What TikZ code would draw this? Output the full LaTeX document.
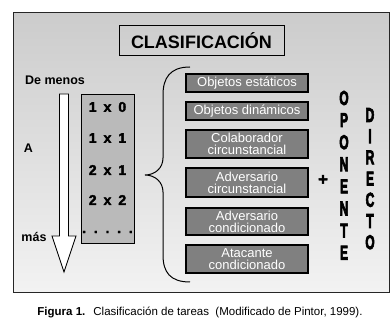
\documentclass[tikz,border=0pt]{standalone}
\usepackage{fontspec}
\setmainfont{Liberation Sans}
\newfontfamily\gruesa{Liberation Sans}[BoldFeatures={FakeBold=2.5}]
\newfontfamily\negra{Liberation Sans}[BoldFeatures={FakeBold=4.5}]
\begin{document}
\begin{tikzpicture}[x=1pt,y=-1pt,
    tarea/.style={draw=black,line width=1.2pt,fill=black!50,text=white,align=center,
      minimum width=122,inner sep=0pt,font=\fontsize{13}{12}\selectfont},
    celda/.style={font=\gruesa\fontsize{14}{16}\selectfont\bfseries},
    letra/.style={font=\negra\fontsize{20}{20}\selectfont\bfseries,inner sep=0pt},
    rotulo/.style={font=\fontsize{12.5}{14}\selectfont\bfseries,inner sep=0pt}]
  \useasboundingbox (0,0) rectangle (392,320);
  % fondo
  \shade[top color=black!20,bottom color=black!5] (13,13) rectangle (389,293);
  \draw[line width=1pt,black!85] (13,13) rectangle (389,293);
  \node[draw,line width=1pt,minimum width=165,minimum height=30,
    font=\fontsize{18}{20}\selectfont\bfseries] (titulo) at (201.5,41) {CLASIFICACIÓN};
  % flecha de menos a mas
  \node[rotulo,anchor=west] (menos) at (25,80) {De menos};
  \node[rotulo] (a) at (28.5,148) {A};
  \node[rotulo] (mas) at (34,237) {más};
  \draw[fill=white,line width=0.8pt] (59.5,94) -- (68.5,94) -- (68.5,236) -- (76,236)
    -- (64,272) -- (52,236) -- (59.5,236) -- cycle;
  % tabla de niveles
  \node[draw,line width=0.8pt,fill=black!27,minimum width=53,minimum height=149] (tabla) at (107.5,168.5) {};
  \foreach \yc/\txt [count=\i] in {107/{1\hspace{7pt}x\hspace{7pt}0},138/{1\hspace{7pt}x\hspace{7pt}1},
      170/{2\hspace{7pt}x\hspace{7pt}1},200/{2\hspace{7pt}x\hspace{7pt}2},232/{.\ \ .\ \ .\ \ .\ \ .}} {
    \node[celda] (c\i) at (107.5,\yc) {\txt};
  }
  % llave
  \draw[line width=1pt] (190,67) .. controls (170,67) and (163,78) .. (163,95) -- (163,158)
    .. controls (163,168) and (155,175) .. (145,175)
    .. controls (155,175) and (163,182) .. (163,192) -- (163,255)
    .. controls (163,272) and (170,282) .. (190,282);
  % tareas
  \node[tarea,minimum height=18] (t1) at (247,83) {Objetos estáticos};
  \node[tarea,minimum height=18] (t2) at (247,111) {Objetos dinámicos};
  \node[tarea,minimum height=28] (t3) at (247,144) {Colaborador\\circunstancial};
  \node[tarea,minimum height=29] (t4) at (247,182.5) {Adversario\\circunstancial};
  \node[tarea,minimum height=27] (t5) at (247,221.5) {Adversario\\condicionado};
  \node[tarea,minimum height=28] (t6) at (247,259) {Atacante\\condicionado};
  \node[font=\gruesa\fontsize{17}{17}\selectfont\bfseries] (suma) at (323,180) {+};
  \foreach \ch [count=\i from 0] in {O,P,O,N,E,N,T,E} {
    \node[letra] (op\i) at (344,98+22.1*\i) {\scalebox{0.6}[1]{\ch}};
  }
  \foreach \ch [count=\i from 0] in {D,I,R,E,C,T,O} {
    \node[letra] (di\i) at (370,115+21.2*\i) {\scalebox{0.6}[1]{\ch}};
  }
  % pie
  \node[font=\fontsize{11.5}{13}\selectfont] (pie) at (200,312)
    {\textbf{Figura 1.}\hspace{0.7em}Clasificación de tareas\ \ (Modificado de Pintor, 1999).};
\end{tikzpicture}
\end{document}
